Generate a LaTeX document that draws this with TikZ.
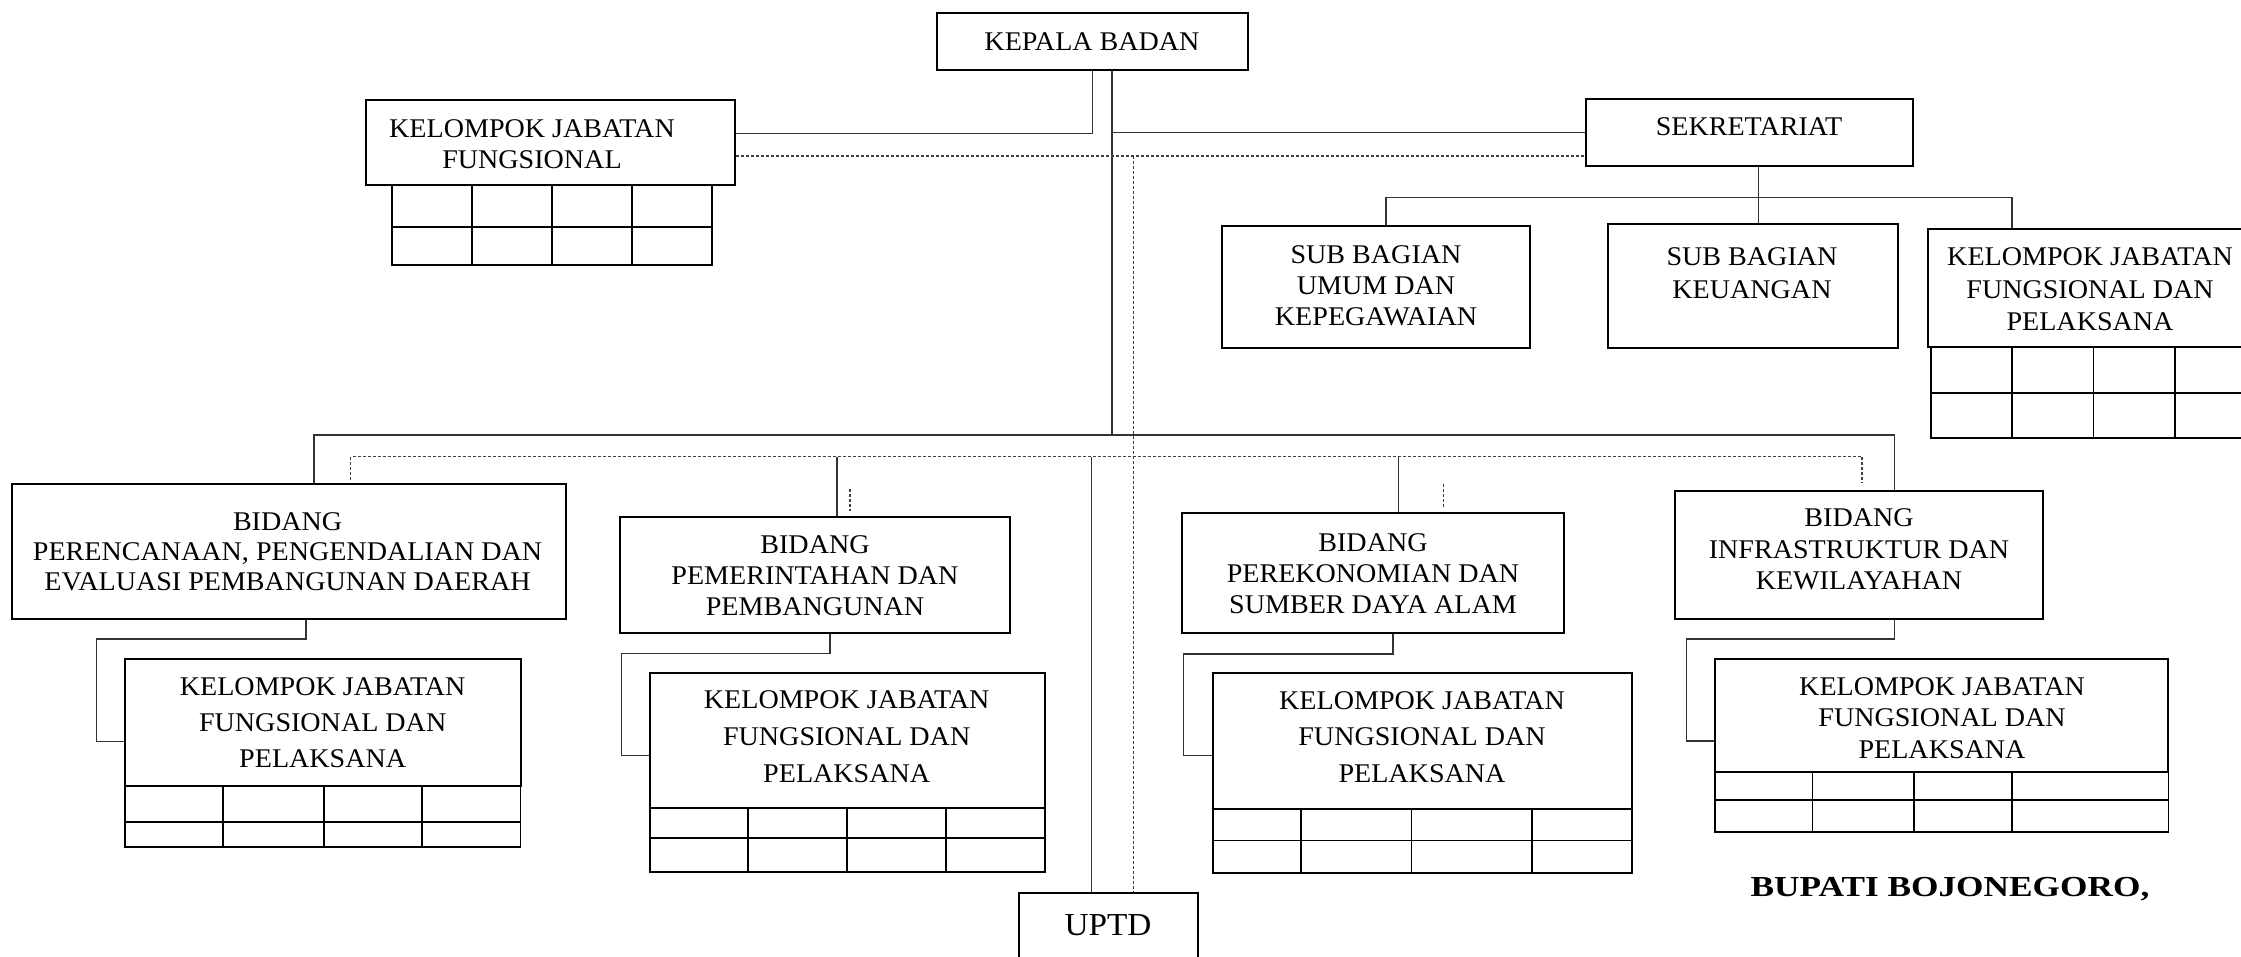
\documentclass[tikz,border=0pt]{standalone}
\usepackage{fontspec}
\setmainfont{Liberation Serif}[FakeStretch=1.04]
\usepackage{graphicx}
\tikzset{
  bx/.style={draw=black, line width=2pt, inner sep=0pt, fill=none},
  tx/.style={align=center, inner sep=0pt, font=\fontsize{27}{31}\selectfont},
  ln/.style={draw=black!80, line width=1.2pt},
  dsh/.style={draw=black!75, line width=1.2pt, dash pattern=on 3pt off 2pt},
  grd/.style={draw=black, line width=1.8pt},
}
\newcommand{\mygrid}[6]{% x0 x1 y0 ymid y1 {cols}
  \draw[grd] (#1,#3) rectangle (#2,#5);
  \draw[grd] (#1,#4) -- (#2,#4);
  \foreach \c in {#6} {\draw[grd] (\c,#3) -- (\c,#5);}
}
\begin{document}
\begin{tikzpicture}[x=1pt,y=-1pt]
\useasboundingbox (0,0) rectangle (2241,957);

% ---------- boxes ----------
\node[bx, minimum width=311pt, minimum height=57pt] (kepala) at (1092.5,41.5) {};
\node[tx] (kepala-t) at (1092,41.5) {KEPALA BADAN};

\node[bx, minimum width=369pt, minimum height=85pt] (kjf) at (550.5,142.5) {};
\node[tx, font=\fontsize{27}{30.5}\selectfont] (kjf-t) at (532,144) {KELOMPOK JABATAN\\FUNGSIONAL};

\node[bx, minimum width=327pt, minimum height=66.5pt] (sek) at (1749.5,132.75) {};
\node[tx] (sek-t) at (1749,127) {SEKRETARIAT};

\node[bx, minimum width=308pt, minimum height=122pt] (umum) at (1376,287) {};
\node[tx] (umum-t) at (1376,286) {SUB BAGIAN\\UMUM DAN\\KEPEGAWAIAN};

\node[bx, minimum width=290pt, minimum height=124pt] (keu) at (1753,286) {};
\node[tx, font=\fontsize{27}{33}\selectfont] (keu-t) at (1752,273.3) {SUB BAGIAN\\KEUANGAN};

\node[bx, minimum width=327pt, minimum height=118pt] (kjfr) at (2091.5,288) {};
\node[tx, font=\fontsize{27}{32.5}\selectfont] (kjfr-t) at (2090,289.2) {KELOMPOK JABATAN\\FUNGSIONAL DAN\\PELAKSANA};

\node[bx, minimum width=554pt, minimum height=135pt] (b1) at (289,551.5) {};
\node[tx, font=\fontsize{27}{30}\selectfont] (b1-t) at (287.6,551.9) {BIDANG\\PERENCANAAN, PENGENDALIAN DAN\\EVALUASI PEMBANGUNAN DAERAH};

\node[bx, minimum width=395.5pt, minimum height=127.3pt] (kjf1) at (322.75,722.35) {};
\node[tx, font=\fontsize{27}{36}\selectfont] (kjf1-t) at (322.7,722.5) {KELOMPOK JABATAN\\FUNGSIONAL DAN\\PELAKSANA};

\node[bx, minimum width=390pt, minimum height=116.6pt] (b2) at (815,575) {};
\node[tx] (b2-t) at (815,575.8) {BIDANG\\PEMERINTAHAN DAN\\PEMBANGUNAN};

\node[bx, minimum width=395.4pt, minimum height=135pt] (kjf2) at (847.3,740.8) {};
\node[tx, font=\fontsize{27}{36.7}\selectfont] (kjf2-t) at (846.7,736.7) {KELOMPOK JABATAN\\FUNGSIONAL DAN\\PELAKSANA};

\node[bx, minimum width=382.1pt, minimum height=120.5pt] (b3) at (1372.55,572.75) {};
\node[tx] (b3-t) at (1373,574) {BIDANG\\PEREKONOMIAN DAN\\SUMBER DAYA ALAM};

\node[bx, minimum width=419.2pt, minimum height=135.3pt] (kjf3) at (1422.4,741.05) {};
\node[tx, font=\fontsize{27}{36.2}\selectfont] (kjf3-t) at (1422,737.1) {KELOMPOK JABATAN\\FUNGSIONAL DAN\\PELAKSANA};

\node[bx, minimum width=367.5pt, minimum height=127.6pt] (b4) at (1858.75,554.8) {};
\node[tx, font=\fontsize{27}{31.7}\selectfont] (b4-t) at (1859,549.3) {BIDANG\\INFRASTRUKTUR DAN\\KEWILAYAHAN};

\node[bx, minimum width=453.4pt, minimum height=113pt] (kjf4) at (1941.7,715.2) {};
\node[tx, font=\fontsize{27}{31.6}\selectfont] (kjf4-t) at (1942,718) {KELOMPOK JABATAN\\FUNGSIONAL DAN\\PELAKSANA};

\node[bx, minimum width=179pt, minimum height=82pt] (uptd) at (1108.5,934) {};
\node[tx, font=\fontsize{32}{34}\selectfont] (uptd-t) at (1108,925) {UPTD};

\node[tx, font=\fontsize{29}{31}\selectfont\bfseries] (bupati) at (1950,889) {\scalebox{1.17}[1]{BUPATI BOJONEGORO,}};

% ---------- grids ----------
\mygrid{392}{711.6}{185}{227}{265}{472,552,632}
\mygrid{1931}{2260}{347}{393}{437.7}{2012,2093.4,2174.6}
\mygrid{125}{520.5}{786}{821.7}{846.7}{223,324,422}
\mygrid{649.6}{1045}{808.3}{838}{871.7}{747.8,846.7,945.6}
\mygrid{1212.8}{1632}{808.7}{840.5}{872.7}{1300.9,1411.5,1532.3}
\mygrid{1715}{2168.4}{771.7}{800}{832}{1812.5,1913.7,2012}

% ---------- coordinates ----------
\coordinate (kj) at (1092.5,133.3);
\coordinate (trk) at (1112,435);
\coordinate (dtop) at (1133.7,156);
\coordinate (sbl) at (314,435);
\coordinate (sbr) at (1894.8,435);
\coordinate (dbl0) at (350.8,480);
\coordinate (dbl) at (350.8,456.7);
\coordinate (dbr) at (1862,456.7);
\coordinate (dbr0) at (1862,483);
\coordinate (s2) at (837,456.7);
\coordinate (s3) at (1398.4,456.7);
\coordinate (s5) at (1091.7,456.7);
\coordinate (d2a) at (850,489);
\coordinate (d2b) at (850,511);
\coordinate (d3a) at (1443.5,484);
\coordinate (d3b) at (1443.5,506.6);
\coordinate (sx) at (1758.3,197.7);
\coordinate (sl) at (1386,197.7);
\coordinate (sr) at (2012,197.7);
\coordinate (j1) at (96.8,639);   \coordinate (m1) at (96.8,741.7);
\coordinate (j2) at (621.5,653.3); \coordinate (m2) at (621.5,755.7);
\coordinate (j3) at (1183.7,654);  \coordinate (m3) at (1183.7,755.6);
\coordinate (j4) at (1686.6,639);  \coordinate (m4) at (1686.6,741);

% ---------- connectors ----------
\draw[ln] (kepala.south) -- (kj) -- (kj -| kjf.east);
\draw[ln] (kepala.south -| trk) -- (trk);
\draw[ln] (trk |- sek.west) -- (sek.west);
\draw[dsh] (dtop -| kjf.east) -- (dtop -| sek.west);
\draw[dsh] (dtop) -- (dtop |- uptd.north);

\draw[ln] (sbl |- b1.north) -- (sbl) -- (sbr) -- (sbr |- b4.north);
\draw[dsh] (dbl0) -- (dbl) -- (dbr) -- (dbr0);
\draw[ln] (s2) -- (s2 |- b2.north);
\draw[ln] (s3) -- (s3 |- b3.north);
\draw[ln] (s5) -- (s5 |- uptd.north);
\draw[dsh] (d2a) -- (d2b);
\draw[dsh] (d3a) -- (d3b);

\draw[ln] (sx |- sek.south) -- (sx |- keu.north);
\draw[ln] (sl |- umum.north) -- (sl) -- (sr) -- (sr |- kjfr.north);

\draw[ln] ([xshift=17pt]b1.south) |- (j1) -- (m1) -- (m1 -| kjf1.west);
\draw[ln] ([xshift=15pt]b2.south) |- (j2) -- (m2) -- (m2 -| kjf2.west);
\draw[ln] ([xshift=20.5pt]b3.south) |- (j3) -- (m3) -- (m3 -| kjf3.west);
\draw[ln] ([xshift=36pt]b4.south) |- (j4) -- (m4) -- (m4 -| kjf4.west);
\end{tikzpicture}
\end{document}
